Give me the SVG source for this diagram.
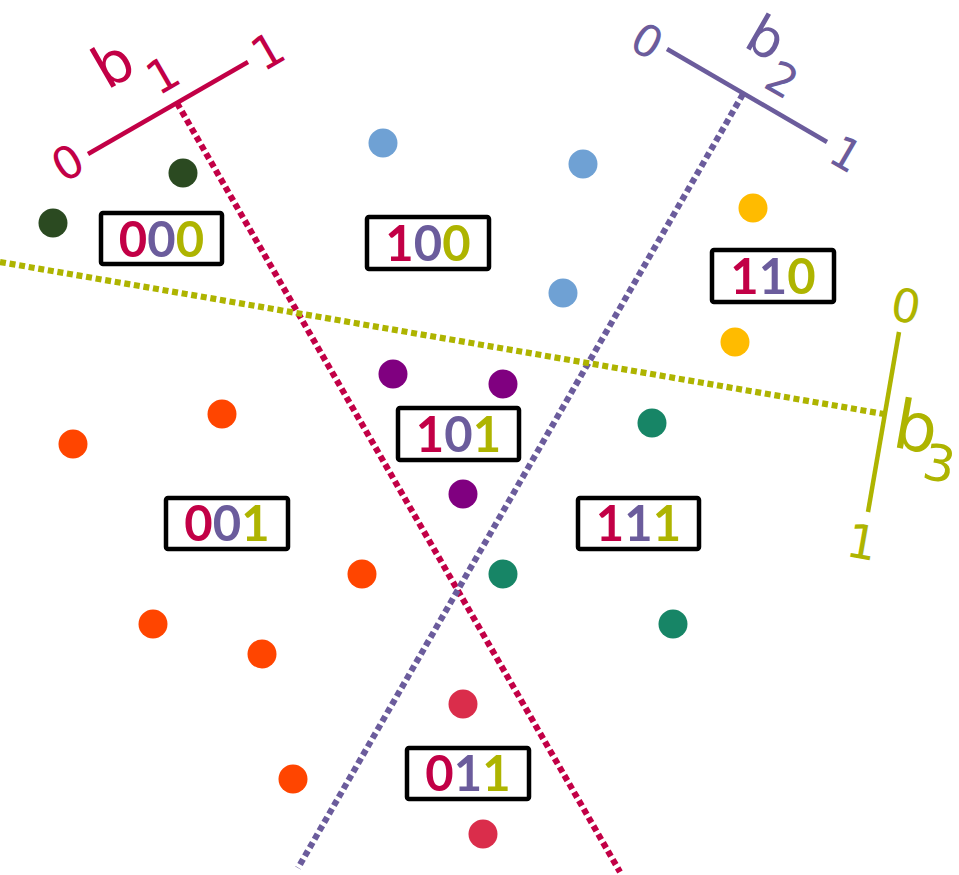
<svg xmlns="http://www.w3.org/2000/svg" width="959" height="875" viewBox="0 0 959 875">
<style>
.dash{fill:none;stroke-width:6.2;stroke-dasharray:6 3.7}
.axis{fill:none;stroke-width:4.5}
.lbl{font-family:"DejaVu Sans",sans-serif;text-anchor:middle;dominant-baseline:central}
.box rect{fill:#fff;stroke:#000;stroke-width:4.5}
.box text{font-family:Lato,"Open Sans",sans-serif;font-weight:bold;font-size:49px;text-anchor:middle}
.r{fill:#C20046}.p{fill:#6B5C9C}.o{fill:#AEB400}
</style>
<rect width="959" height="875" fill="#fff"/>
<g id="connectors">
<line class="dash" x1="177" y1="103" x2="620" y2="872" stroke="#C20046"/>
<line class="dash" x1="743" y1="94" x2="298" y2="868" stroke="#6B5C9C"/>
<line class="dash" x1="0" y1="262" x2="884" y2="414" stroke="#AEB400"/>
</g>
<g id="axis-b1">
<line class="axis" x1="88" y1="154" x2="248" y2="62" stroke="#C20046"/>
<g class="lbl" fill="#C20046">
<text transform="translate(68,163) rotate(-30)" font-size="45">0</text>
<text transform="translate(113,64) rotate(-30)" font-size="58">b</text>
<text transform="translate(163,75) rotate(-30)" font-size="46">1</text>
<text transform="translate(268,51) rotate(-30)" font-size="46">1</text>
</g>
</g>
<g id="axis-b2">
<line class="axis" x1="667" y1="49" x2="827" y2="142" stroke="#6B5C9C"/>
<g class="lbl" fill="#6B5C9C">
<text transform="translate(647,41) rotate(30)" font-size="44">0</text>
<text transform="translate(766,38) rotate(30)" font-size="54">b</text>
<text transform="translate(782,80) rotate(30)" font-size="45">2</text>
<text transform="translate(846,154) rotate(30)" font-size="44">1</text>
</g>
</g>
<g id="axis-b3">
<line class="axis" x1="899" y1="332" x2="868" y2="512" stroke="#AEB400"/>
<g class="lbl" fill="#AEB400">
<text transform="translate(906,306) rotate(10)" font-size="46">0</text>
<text transform="translate(916,427) rotate(10)" font-size="68">b</text>
<text transform="translate(939,464) rotate(10)" font-size="50">3</text>
<text transform="translate(862,542) rotate(10)" font-size="47">1</text>
</g>
</g>
<g id="points">
<g fill="#2B4A21"><circle cx="183" cy="173" r="14.5"/><circle cx="53" cy="223" r="14.5"/></g>
<g fill="#6FA1D4"><circle cx="383" cy="143" r="14.5"/><circle cx="583" cy="164" r="14.5"/><circle cx="563" cy="293" r="14.5"/></g>
<g fill="#FFBB00"><circle cx="753" cy="208" r="14.5"/><circle cx="735" cy="342" r="14.5"/></g>
<g fill="#800080"><circle cx="393" cy="374" r="14.5"/><circle cx="503" cy="384" r="14.5"/><circle cx="463" cy="494" r="14.5"/></g>
<g fill="#178566"><circle cx="652" cy="423" r="14.5"/><circle cx="503" cy="574" r="14.5"/><circle cx="673" cy="624" r="14.5"/></g>
<g fill="#FF4500"><circle cx="222" cy="414" r="14.5"/><circle cx="73" cy="444" r="14.5"/><circle cx="362" cy="574" r="14.5"/><circle cx="153" cy="624" r="14.5"/><circle cx="262" cy="654" r="14.5"/><circle cx="293" cy="779" r="14.5"/></g>
<g fill="#DA2D4B"><circle cx="463" cy="704" r="14.5"/><circle cx="483" cy="834" r="14.5"/></g>
</g>
<g id="box-000" class="box"><rect x="101" y="213" width="121" height="51" rx="2"/><text x="161.5" y="257"><tspan class="r">0</tspan><tspan class="p">0</tspan><tspan class="o">0</tspan></text></g>
<g id="box-100" class="box"><rect x="367" y="217" width="122" height="52" rx="2"/><text x="428" y="261"><tspan class="r">1</tspan><tspan class="p">0</tspan><tspan class="o">0</tspan></text></g>
<g id="box-110" class="box"><rect x="712" y="250" width="122" height="52" rx="2"/><text x="773" y="294"><tspan class="r">1</tspan><tspan class="p">1</tspan><tspan class="o">0</tspan></text></g>
<g id="box-101" class="box"><rect x="398" y="408" width="121" height="52" rx="2"/><text x="458.5" y="452"><tspan class="r">1</tspan><tspan class="p">0</tspan><tspan class="o">1</tspan></text></g>
<g id="box-001" class="box"><rect x="166" y="498" width="122" height="51" rx="2"/><text x="227" y="541"><tspan class="r">0</tspan><tspan class="p">0</tspan><tspan class="o">1</tspan></text></g>
<g id="box-111" class="box"><rect x="578" y="498" width="121" height="51" rx="2"/><text x="638.5" y="541"><tspan class="r">1</tspan><tspan class="p">1</tspan><tspan class="o">1</tspan></text></g>
<g id="box-011" class="box"><rect x="407" y="748" width="122" height="51" rx="2"/><text x="468" y="791"><tspan class="r">0</tspan><tspan class="p">1</tspan><tspan class="o">1</tspan></text></g>
</svg>
